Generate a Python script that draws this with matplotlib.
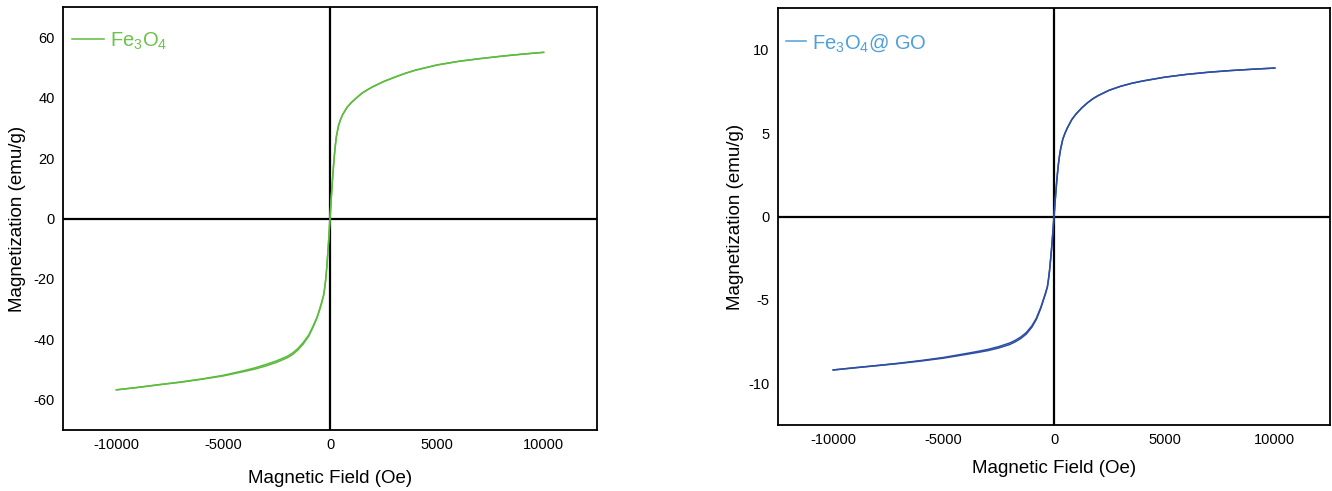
import matplotlib
matplotlib.use("Agg")
import matplotlib.pyplot as plt

plt.rcParams['font.family'] = ['Liberation Sans', 'DejaVu Sans']
plt.rcParams['mathtext.fontset'] = 'custom'
plt.rcParams['mathtext.rm'] = 'Liberation Sans'
plt.rcParams['mathtext.it'] = 'Liberation Sans'

# Applied field (Oe)
field = [-10000, -9000, -8000, -7000, -6000, -5000, -4000, -3500, -3000, -2500,
         -2000, -1750, -1500, -1250, -1000, -800, -600, -500, -400, -300, -250,
         -200, -150, -100, -50, 0, 50, 100, 150, 200, 250, 300, 400, 500, 600,
         800, 1000, 1250, 1500, 1750, 2000, 2500, 3000, 3500, 4000, 5000, 6000,
         7000, 8000, 9000, 10000]

# Fe3O4 magnetization (emu/g), field sweeping down
fe3o4_down = [-56.7, -55.9, -55.0, -54.1, -53.1, -51.9, -50.3, -49.4, -48.3, -47.1,
              -45.6, -44.5, -43.0, -41.0, -38.6, -35.7, -32.5, -30.3, -28.0, -25.3,
              -23.0, -20.0, -16.0, -11.1, -5.8, -0.2, 5.8, 11.2, 16.2, 20.5, 24.2,
              27.2, 30.8, 32.9, 34.5, 36.8, 38.4, 40.0, 41.5, 42.6, 43.6, 45.3,
              46.7, 48.0, 49.1, 50.8, 52.0, 52.9, 53.7, 54.4, 55.0]
# Fe3O4 magnetization (emu/g), field sweeping up
fe3o4_up = [-56.7, -55.9, -55.0, -54.2, -53.2, -52.1, -50.6, -49.8, -48.8, -47.6,
            -46.1, -45.0, -43.5, -41.5, -39.0, -36.1, -32.8, -30.6, -28.2, -25.5,
            -23.2, -20.2, -16.2, -11.3, -6.0, 0.2, 5.8, 11.2, 16.2, 20.5, 24.2,
            27.2, 30.8, 32.9, 34.5, 36.8, 38.4, 40.0, 41.5, 42.6, 43.6, 45.3,
            46.7, 48.0, 49.1, 50.8, 52.0, 52.9, 53.7, 54.4, 55.0]

# Fe3O4@GO magnetization (emu/g), field sweeping down
go_down = [-9.20, -9.06, -8.93, -8.79, -8.63, -8.45, -8.22, -8.10, -7.97, -7.80,
           -7.58, -7.42, -7.22, -6.95, -6.55, -6.10, -5.45, -5.05, -4.65, -4.20,
           -3.75, -3.20, -2.50, -1.75, -0.90, -0.03, 0.90, 1.75, 2.50, 3.15, 3.65,
           4.05, 4.65, 5.00, 5.30, 5.80, 6.15, 6.50, 6.80, 7.05, 7.25, 7.57, 7.80,
           7.98, 8.12, 8.35, 8.52, 8.65, 8.75, 8.83, 8.90]
# Fe3O4@GO magnetization (emu/g), field sweeping up
go_up = [-9.20, -9.07, -8.94, -8.81, -8.66, -8.49, -8.27, -8.16, -8.04, -7.88,
         -7.67, -7.51, -7.31, -7.04, -6.63, -6.17, -5.51, -5.10, -4.69, -4.23,
         -3.78, -3.23, -2.53, -1.78, -0.93, 0.03, 0.90, 1.75, 2.50, 3.15, 3.65,
         4.05, 4.65, 5.00, 5.30, 5.80, 6.15, 6.50, 6.80, 7.05, 7.25, 7.57, 7.80,
         7.98, 8.12, 8.35, 8.52, 8.65, 8.75, 8.83, 8.90]

fe3o4_yticks = [-60, -40, -20, 0, 20, 40, 60]
go_yticks = [-10, -5, 0, 5, 10]
xticks = [-10000, -5000, 0, 5000, 10000]

fig = plt.figure(figsize=(13.32, 4.91), dpi=100)
ax1 = fig.add_axes([0.0473, 0.1242, 0.4009, 0.8615])
ax2 = fig.add_axes([0.5841, 0.1344, 0.4144, 0.8493])


def style(ax, ylim, yticks, leg_col, handlelen, anchor, ylab_x, xlab_y):
    ax.axhline(0, color='black', lw=1.6, zorder=1)
    ax.axvline(0, color='black', lw=1.6, zorder=1)
    ax.set_xlim(-12500, 12500)
    ax.set_ylim(*ylim)
    ax.set_xticks(xticks)
    ax.set_xticklabels([str(v) for v in xticks])
    ax.set_yticks(yticks)
    ax.set_yticklabels([str(v) for v in yticks])
    ax.tick_params(length=0, labelsize=10.5)
    ax.tick_params(axis='x', pad=6)
    ax.tick_params(axis='y', pad=6)
    for s in ax.spines.values():
        s.set_linewidth(1.3)
        s.set_color('black')
    ax.set_xlabel('Magnetic Field (Oe)', fontsize=13.5)
    ax.set_ylabel('Magnetization (emu/g)', fontsize=13.5)
    ax.yaxis.set_label_coords(ylab_x, 0.5)
    ax.xaxis.set_label_coords(0.5, xlab_y)
    leg = ax.legend(loc='upper left', bbox_to_anchor=anchor, frameon=False,
                    fontsize=14.5, handlelength=handlelen, handletextpad=0.3,
                    borderaxespad=0.0, borderpad=0.0)
    for t in leg.get_texts():
        t.set_color(leg_col)
    return leg


ax1.plot(field, fe3o4_down, color='#5dbb3f', lw=1.1, zorder=3,
         label=r'Fe$_\mathregular{3}$O$_\mathregular{4}$')
ax1.plot(field, fe3o4_up, color='#5dbb3f', lw=1.1, zorder=3)
style(ax1, (-70, 70), fe3o4_yticks, '#6cc24c', 1.6, (0.017, 0.945), -0.069, -0.095)

ax2.plot(field, go_down, color='#2d4fa3', lw=1.1, zorder=3,
         label=r'Fe$_\mathregular{3}$O$_\mathregular{4}$@ GO')
ax2.plot(field, go_up, color='#2d4fa3', lw=1.1, zorder=3)
leg2 = style(ax2, (-12.5, 12.5), go_yticks, '#4f9fdb', 1.0, (0.0145, 0.942), -0.062, -0.085)
for h in leg2.get_lines():
    h.set_color('#4f9fdb')

fig.savefig('out.png', dpi=100)
